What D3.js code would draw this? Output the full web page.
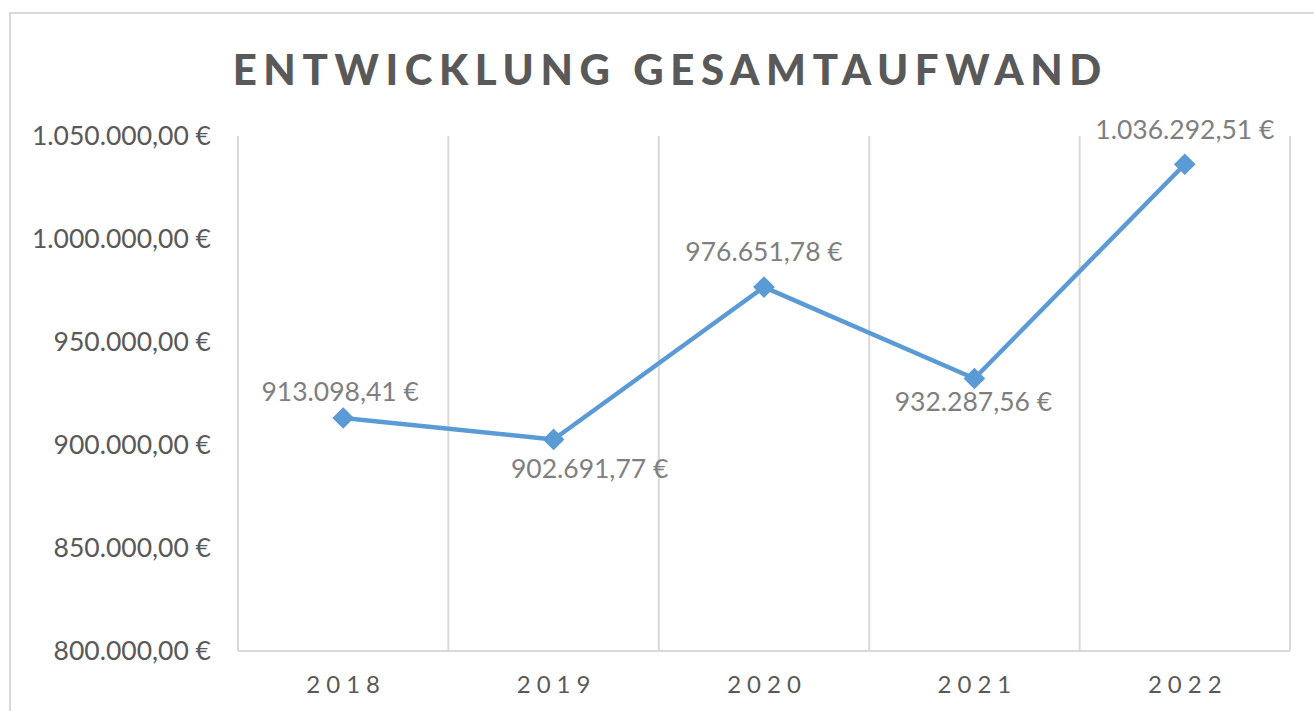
<!DOCTYPE html>
<html>
<head>
<meta charset="utf-8">
<script src="https://cdn.jsdelivr.net/npm/d3@7"></script>
<style>
  body { margin: 0; background: #fff; }
  svg { display: block; font-family: Lato, "Open Sans", sans-serif; }
</style>
</head>
<body>
<div id="chart"></div>
<script>
// chart data
const years = ["2018", "2019", "2020", "2021", "2022"];
const totals = [913098.41, 902691.77, 976651.78, 932287.56, 1036292.51];
const yTicks = [800000, 850000, 900000, 950000, 1000000, 1050000];

const width = 1314, height = 711;
const margin = { top: 136, right: 24, bottom: 60, left: 238 };

const de = d3.formatLocale({ decimal: ",", thousands: ".", grouping: [3], currency: ["", " €"] });
const fmt = de.format("$,.2f");

const svg = d3.select("#chart").append("svg")
    .attr("width", width)
    .attr("height", height);

// outer chart border
svg.append("rect")
    .attr("x", 10).attr("y", 13)
    .attr("width", width).attr("height", height)
    .attr("fill", "#fff")
    .attr("stroke", "#d9d9d9")
    .attr("stroke-width", 2);

// title
svg.append("text")
    .attr("x", 667 + 3.3)
    .attr("y", 85)
    .attr("text-anchor", "middle")
    .attr("fill", "#595959")
    .style("font-size", "42px")
    .style("font-weight", "900")
    .style("letter-spacing", "6.6px")
    .text("ENTWICKLUNG GESAMTAUFWAND");

const x = d3.scaleBand()
    .domain(years)
    .range([margin.left, width - margin.right]);

const y = d3.scaleLinear()
    .domain([800000, 1050000])
    .range([height - margin.bottom, margin.top]);

// vertical gridlines at category boundaries
const bounds = years.map(d => x(d)).concat([x.range()[1]]);
svg.append("g").selectAll("line")
    .data(bounds)
    .enter().append("line")
    .attr("x1", d => d).attr("x2", d => d)
    .attr("y1", y(1050000)).attr("y2", y(800000))
    .attr("stroke", "#d9d9d9")
    .attr("stroke-width", 2);

// x axis line
svg.append("line")
    .attr("x1", x.range()[0]).attr("x2", x.range()[1])
    .attr("y1", y(800000)).attr("y2", y(800000))
    .attr("stroke", "#d9d9d9")
    .attr("stroke-width", 2);

// y axis labels
const yAxis = svg.append("g")
    .attr("transform", `translate(${margin.left - 27},0)`)
    .call(d3.axisLeft(y).tickValues(yTicks).tickFormat(fmt).tickSize(0).tickPadding(0));
yAxis.select(".domain").remove();
yAxis.selectAll("text")
    .attr("fill", "#595959")
    .style("font-family", "Lato, sans-serif")
    .style("font-size", "26.5px");

// x axis labels
svg.append("g").selectAll("text")
    .data(years)
    .enter().append("text")
    .attr("x", d => x(d) + x.bandwidth() / 2 + 3)
    .attr("y", 693)
    .attr("text-anchor", "middle")
    .attr("fill", "#595959")
    .style("font-size", "24px")
    .style("letter-spacing", "6px")
    .text(d => d);

// line
const pts = years.map((d, i) => [x(d) + x.bandwidth() / 2, y(totals[i])]);
svg.append("path")
    .attr("d", d3.line()(pts))
    .attr("fill", "none")
    .attr("stroke", "#5b9bd5")
    .attr("stroke-width", 4.5)
    .attr("stroke-linejoin", "round");

// diamond markers
svg.append("g").selectAll("path")
    .data(pts)
    .enter().append("path")
    .attr("transform", d => `translate(${d[0]},${d[1]})`)
    .attr("d", d3.symbol().type(d3.symbolDiamond2).size(300))
    .attr("fill", "#5b9bd5");

// data labels (above / below like the original)
const placement = [
    { dx: -3, dy: -17 },
    { dx: 36, dy: 39 },
    { dx: 0, dy: -26 },
    { dx: -1, dy: 33 },
    { dx: 0, dy: -25 }
];
svg.append("g").selectAll("text")
    .data(totals)
    .enter().append("text")
    .attr("x", (d, i) => pts[i][0] + placement[i].dx)
    .attr("y", (d, i) => pts[i][1] + placement[i].dy)
    .attr("text-anchor", "middle")
    .attr("fill", "#7f7f7f")
    .style("font-size", "26.5px")
    .text(d => fmt(d));
</script>
</body>
</html>
